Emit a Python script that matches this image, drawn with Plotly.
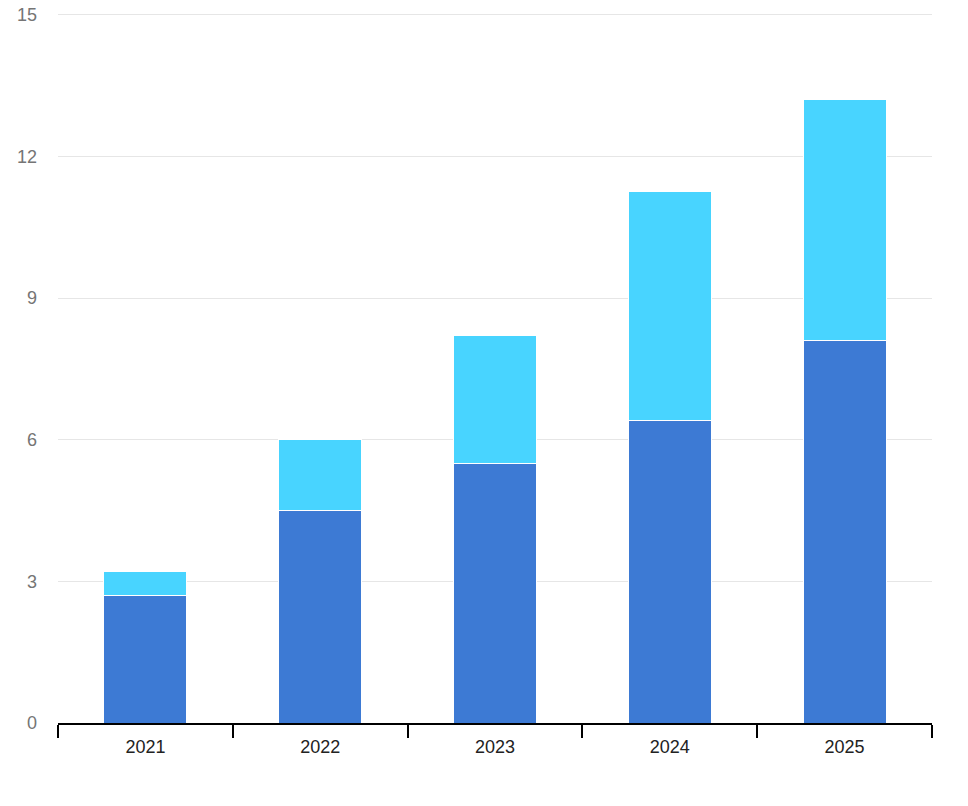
import plotly.graph_objects as go

years = ["2021", "2022", "2023", "2024", "2025"]
base_values = [2.7, 4.5, 5.5, 6.4, 8.1]
top_values = [0.5, 1.5, 2.7, 4.85, 5.1]

fig = go.Figure()
fig.add_trace(go.Bar(
    x=years, y=base_values, name="base",
    marker=dict(color="#3D7AD4", line=dict(color="white", width=1)),
))
fig.add_trace(go.Bar(
    x=years, y=top_values, name="top",
    marker=dict(color="#48D4FF", line=dict(color="white", width=1)),
))

fig.update_layout(
    barmode="stack",
    bargap=0.525,
    width=968, height=806,
    margin=dict(l=58, r=36, t=13, b=83),
    plot_bgcolor="white",
    paper_bgcolor="white",
    showlegend=False,
    font=dict(family="Arial, Liberation Sans", size=18),
)
fig.update_xaxes(
    showline=True, linecolor="black", linewidth=1.5,
    ticks="outside", tickson="boundaries", ticklen=13, tickwidth=1.5, tickcolor="black",
    tickfont=dict(color="#222222", size=18),
    ticklabelstandoff=7,
    showgrid=False, automargin=False,
)
fig.update_yaxes(
    range=[0, 15.04], tickvals=[0, 3, 6, 9, 12, 15], showline=False, zeroline=False,
    gridcolor="#e6e6e6", gridwidth=1,
    tickfont=dict(color="#757575", size=18),
    ticklabelstandoff=20, automargin=False,
)

# drop the page's default 8px body margin so the figure sits at the corner
fig.write_html("out.html", config={"displayModeBar": False},
               post_script="document.body.style.margin='0';")
